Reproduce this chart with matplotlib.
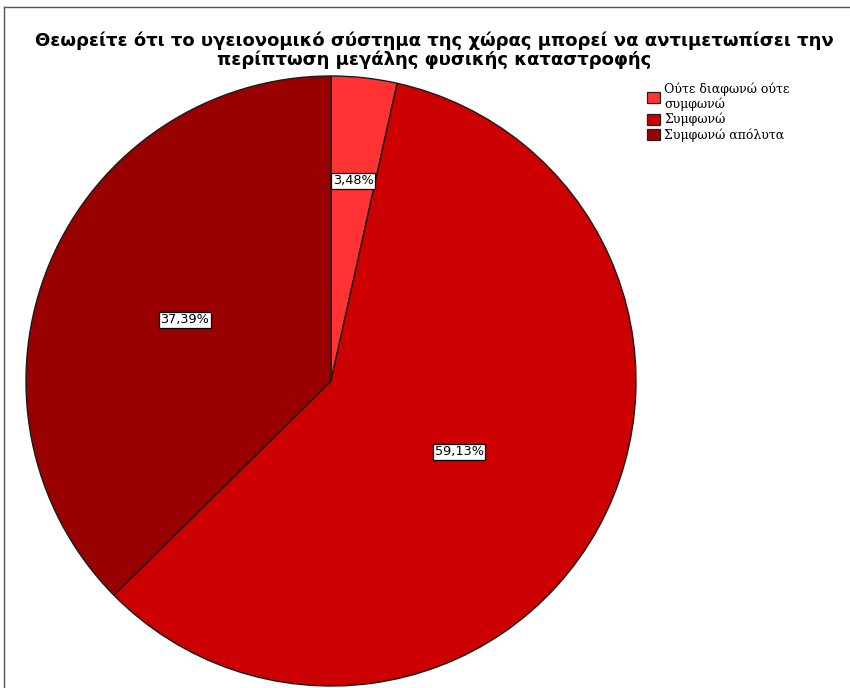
import matplotlib.pyplot as plt
from matplotlib.lines import Line2D
from matplotlib.patches import Patch
import numpy as np

title = ('Θεωρείτε ότι το υγειονομικό σύστημα της χώρας μπορεί να αντιμετωπίσει την\n'
         'περίπτωση μεγάλης φυσικής καταστροφής')
categories = ['Ούτε διαφωνώ ούτε\nσυμφωνώ', 'Συμφωνώ', 'Συμφωνώ απόλυτα']
percentages = [3.48, 59.13, 37.39]
colors = ['#FF3333', '#CC0000', '#990000']
label_radius = [0.66, 0.48, 0.52]

W, H = 850, 688
fig = plt.figure(figsize=(W / 100, H / 100), dpi=100)

# pie axes: centre (331, 381) px, radius 305 px
cx, cy, r = 331, 381, 305
ax = fig.add_axes([(cx - r) / W, (H - cy - r) / H, 2 * r / W, 2 * r / H])
wedges, _ = ax.pie(percentages, colors=colors, startangle=90, counterclock=False,
                   radius=1, wedgeprops=dict(edgecolor='#1a1a1a', linewidth=1.0))
ax.set_xlim(-1, 1)
ax.set_ylim(-1, 1)
ax.set_aspect('equal')
ax.axis('off')

for w, p, lr in zip(wedges, percentages, label_radius):
    ang = np.deg2rad((w.theta1 + w.theta2) / 2)
    ax.text(lr * np.cos(ang), lr * np.sin(ang), f'{p:.2f}%'.replace('.', ','),
            ha='center', va='center', fontsize=9.3, family='DejaVu Sans',
            bbox=dict(boxstyle='square,pad=0.12', facecolor='white',
                      edgecolor='black', linewidth=0.9))

fig.text(434 / W, 1 - 50 / H, title, ha='center', va='center', fontsize=13,
         fontweight='bold', family='DejaVu Sans', linespacing=1.05)

handles = [Patch(facecolor=c, edgecolor='#222222', linewidth=0.9) for c in colors]
fig.legend(handles, categories, loc='upper left', bbox_to_anchor=(647 / W, 1 - 82 / H),
           frameon=False, prop={'family': 'DejaVu Serif', 'size': 9},
           handlelength=1.0, handleheight=1.0, handletextpad=0.4,
           labelspacing=0.15, borderaxespad=0, borderpad=0)

# outer frame lines
fig.add_artist(Line2D([4 / W, 4 / W], [0, 1 - 7 / H], transform=fig.transFigure,
                      color='#555555', linewidth=1))
fig.add_artist(Line2D([4 / W, 1], [1 - 7 / H, 1 - 7 / H], transform=fig.transFigure,
                      color='#555555', linewidth=1))

fig.savefig('out.png', dpi=100)
